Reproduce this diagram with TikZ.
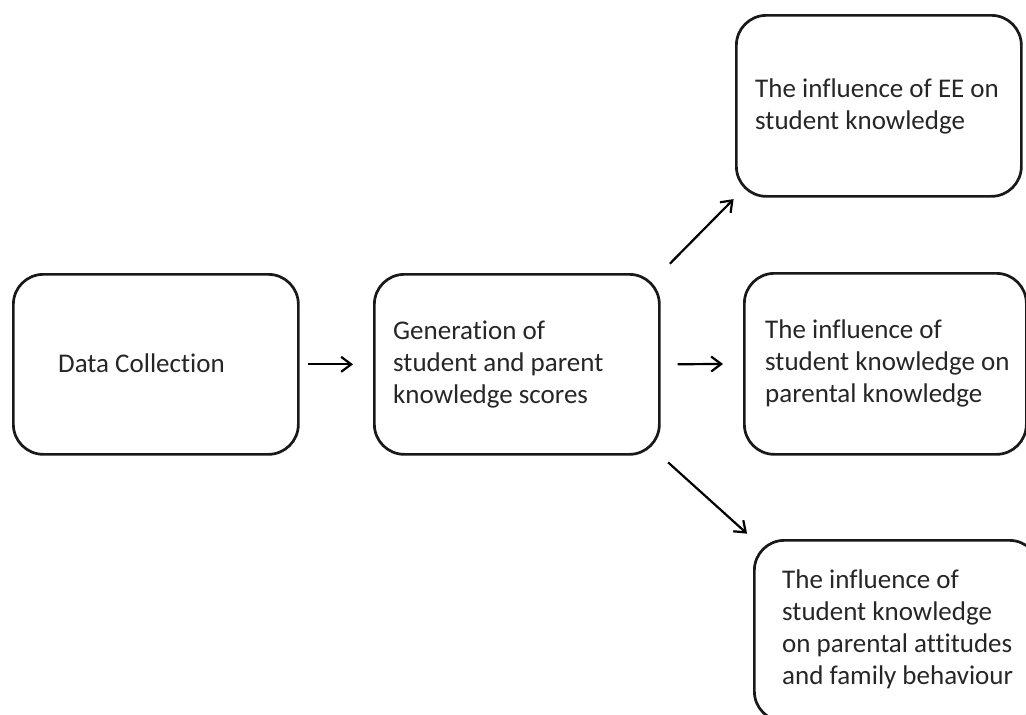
\documentclass[tikz,border=0pt]{standalone}
\usepackage{fontspec}
\setmainfont{Carlito}[Ligatures=NoCommon]
\usetikzlibrary{arrows.meta}
\begin{document}
\begin{tikzpicture}[x=1pt,y=-1pt,
  box/.style={draw=black!90, line width=2.7pt, rounded corners=30pt, anchor=north west, inner sep=0pt},
  txt/.style={align=left, anchor=west, inner sep=0pt,
    font=\fontsize{27}{32}\selectfont, text=black!85},
  arr/.style={line width=2.2pt, -{Straight Barb[length=10pt,width=15pt,line width=2.2pt]}}]
\useasboundingbox (0,0) rectangle (1026,715);
\node[box, minimum width=285pt, minimum height=180pt] (b1) at (12,273) {};
\node[box, minimum width=285pt, minimum height=180pt] (b2) at (373,273) {};
\node[box, minimum width=285pt, minimum height=181pt] (b3) at (735,14) {};
\node[box, minimum width=282pt, minimum height=181pt] (b4) at (743,272) {};
\node[box, minimum width=285pt, minimum height=181pt] (b5) at (753,539) {};
\node[txt] (t1) at ([xshift=46pt,yshift=1pt]b1.west) {Data Collection};
\node[txt] (t2) at ([xshift=20pt]b2.west) {Generation of\\student and parent\\knowledge scores};
\node[txt] (t3) at ([xshift=20pt,yshift=-1pt]b3.west) {The influence of EE on\\student knowledge};
\node[txt] (t4) at ([xshift=22pt]b4.west) {The influence of\\student knowledge on\\parental knowledge};
\node[txt] (t5) at ([xshift=29pt,yshift=1.5pt]b5.west) {The influence of\\student knowledge\\on parental attitudes\\and family behaviour};
\draw[arr, shorten <=8pt, shorten >=20pt] (b1.east) -- (b2.west);
\draw[arr, shorten <=17pt, shorten >=20pt] (b2.east) -- (b4.west);
\draw[arr, shorten <=13pt, shorten >=2pt] (b2.north east) -- (b3.south west);
\draw[arr, shorten <=10pt, shorten >=8pt] (b2.south east) -- (b5.north west);
\end{tikzpicture}
\end{document}
